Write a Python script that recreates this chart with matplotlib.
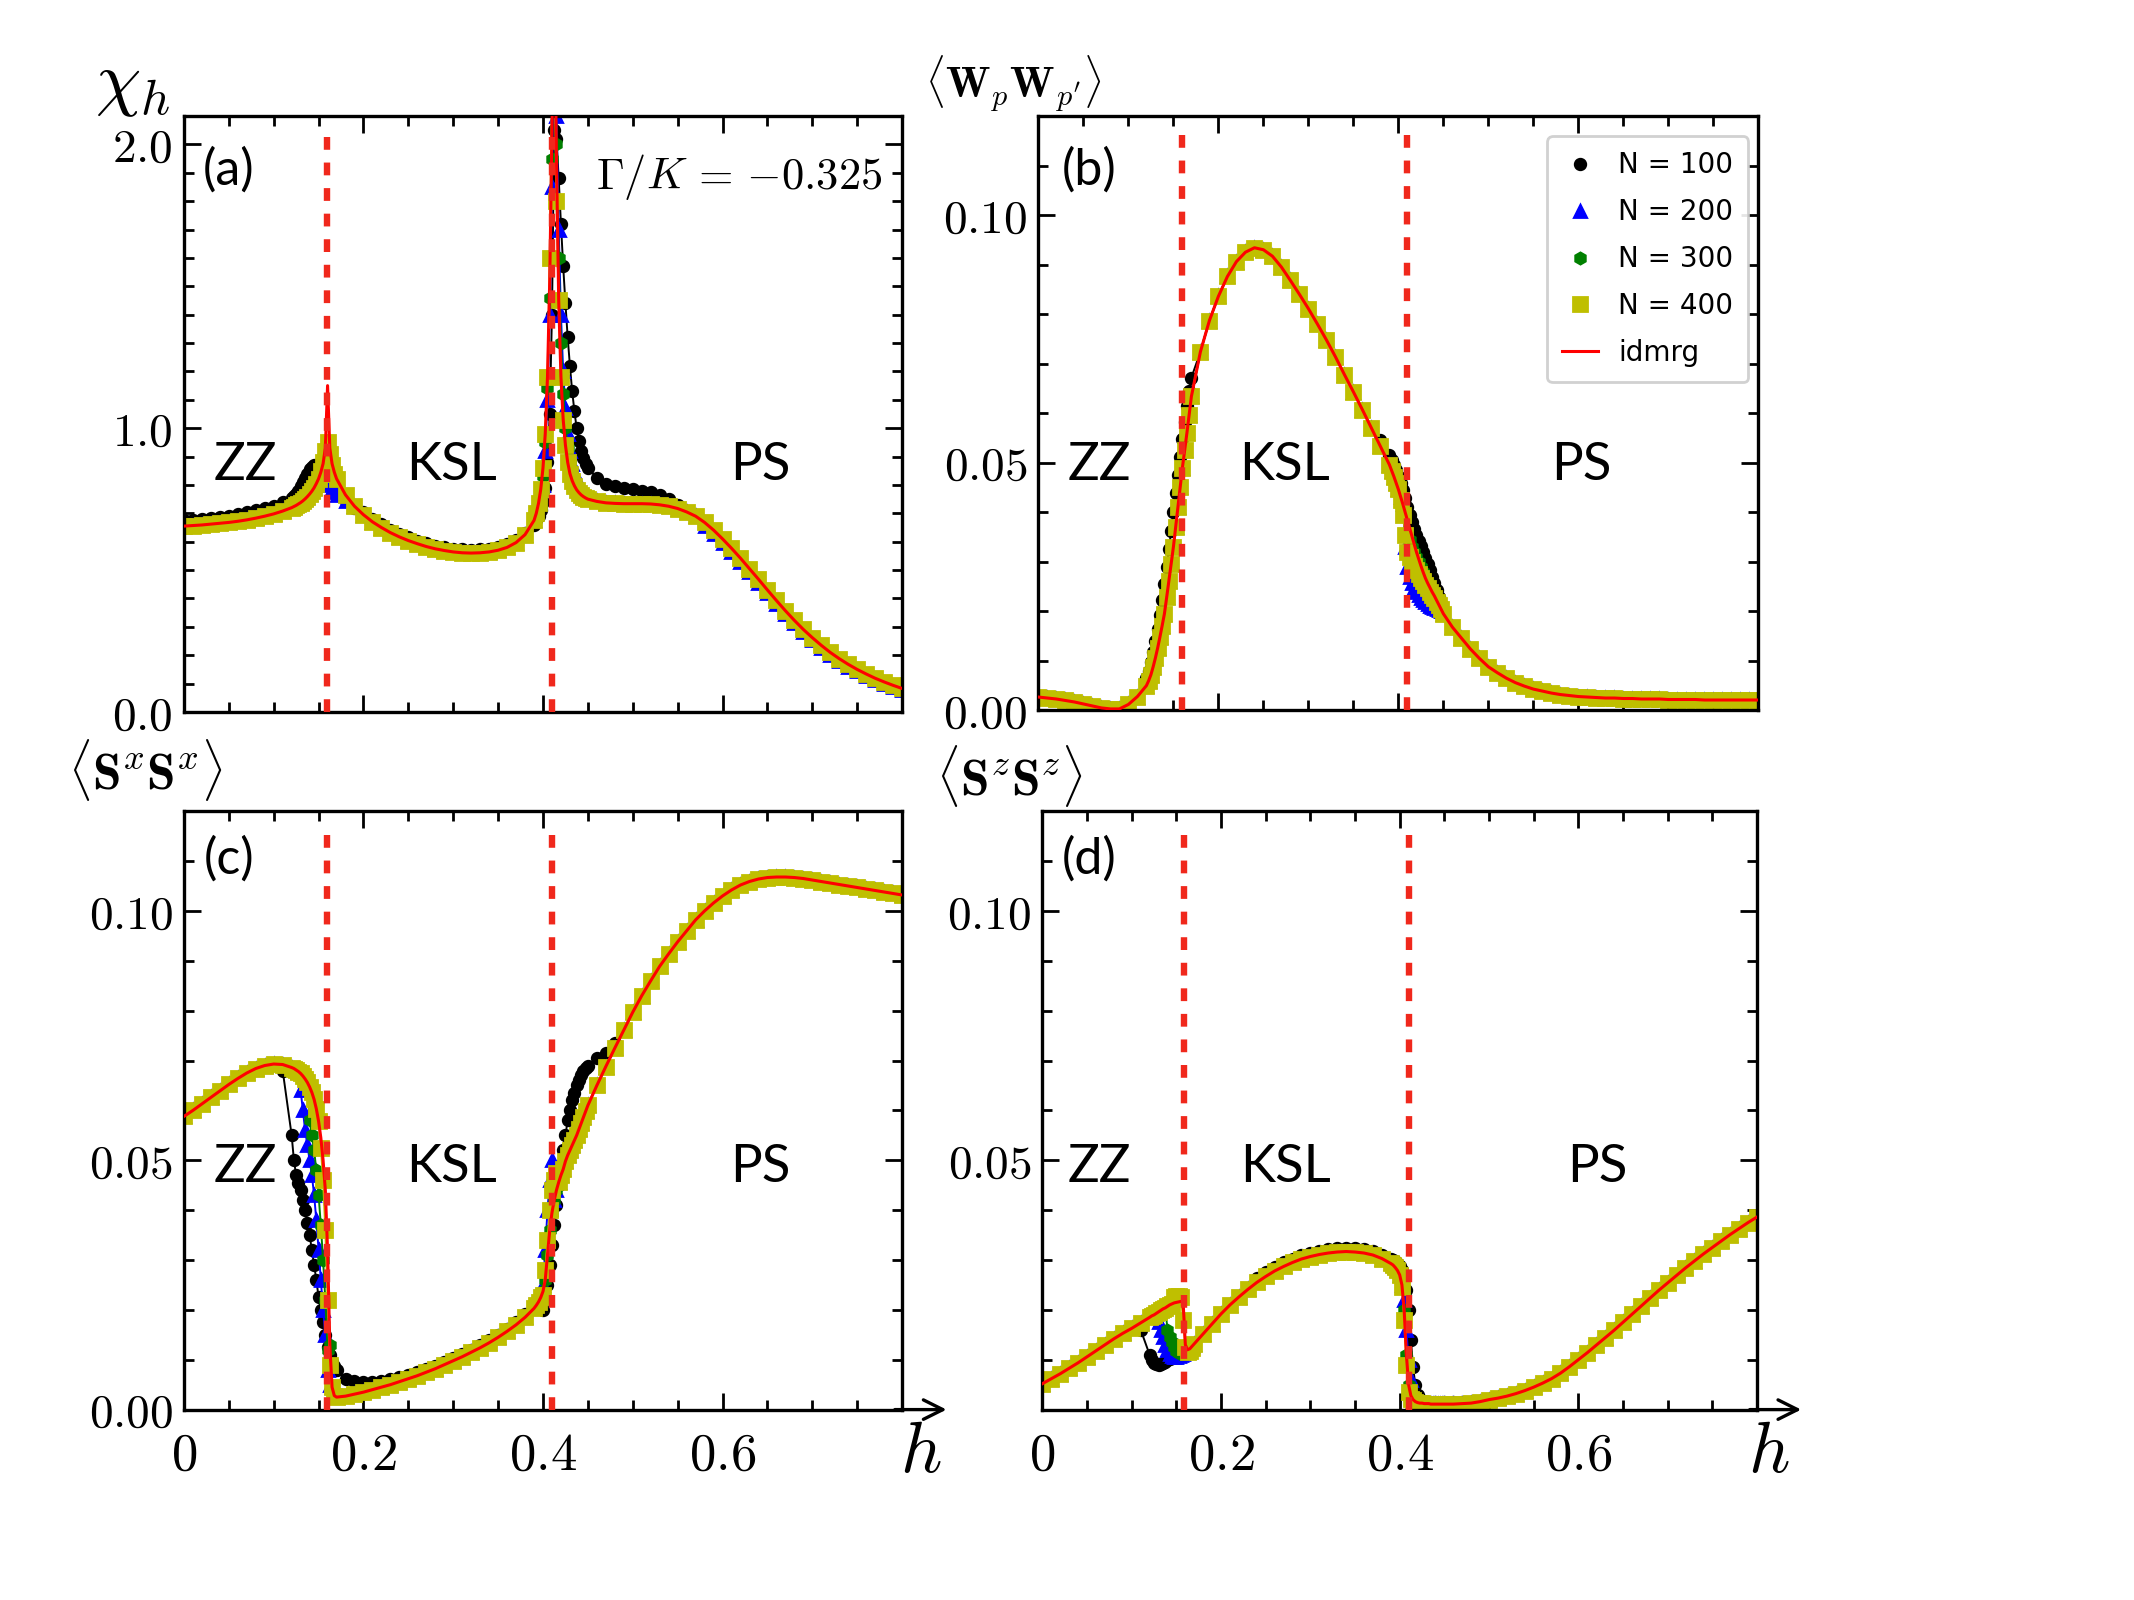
import numpy as np
import matplotlib.pyplot as plt
from matplotlib.ticker import MultipleLocator
from matplotlib.lines import Line2D

plt.rcParams['mathtext.fontset'] = 'cm'

# field grid (finer sampling around the two transitions)
h = np.round(np.concatenate([np.arange(0, 0.115, 0.01),
                             np.arange(0.12, 0.1701, 0.0025),
                             np.arange(0.18, 0.3801, 0.01),
                             np.arange(0.39, 0.4501, 0.0025),
                             np.arange(0.46, 0.8001, 0.01)]), 4)

h_c1, h_c2 = 0.159, 0.410   # transition lines

# ---------------- (a) chi_h ----------------
chi_idmrg = [0.655, 0.657, 0.659, 0.662, 0.665, 0.668, 0.672, 0.677, 0.683, 0.690, 0.698, 0.708,
             0.720, 0.724, 0.728, 0.733, 0.738, 0.744, 0.751, 0.759, 0.768, 0.778, 0.790, 0.805,
             0.822, 0.845, 0.875, 0.930, 1.150, 0.930, 0.875, 0.845, 0.822,
             0.765, 0.725, 0.695, 0.670, 0.650, 0.632, 0.617, 0.604, 0.593, 0.583, 0.575, 0.569,
             0.564, 0.561, 0.560, 0.561, 0.564, 0.570, 0.580, 0.597, 0.625,
             0.675, 0.700, 0.735, 0.785, 0.860, 0.980, 1.180, 1.520, 2.050, 2.600, 1.950, 1.450,
             1.180, 1.030, 0.940, 0.880, 0.840, 0.815, 0.797, 0.783, 0.773, 0.765, 0.759, 0.754, 0.750,
             0.742, 0.737, 0.735, 0.734, 0.734, 0.734, 0.733, 0.730, 0.725, 0.717, 0.705,
             0.690, 0.668, 0.641, 0.610, 0.577, 0.542, 0.505, 0.468, 0.430, 0.393, 0.357, 0.323,
             0.291, 0.262, 0.235, 0.210, 0.188, 0.168, 0.150, 0.134, 0.119, 0.106, 0.094, 0.083]
chi_400 = {0.1525: 0.85, 0.155: 0.88, 0.1575: 0.92, 0.16: 0.95, 0.1625: 0.91, 0.165: 0.87,
           0.1675: 0.84, 0.4075: 1.60, 0.41: 2.20, 0.4125: 2.30, 0.415: 1.80}
chi_300 = {0.16: 0.88, 0.1625: 0.86, 0.165: 0.84,
           0.40: 0.83, 0.4025: 0.95, 0.405: 1.14, 0.4075: 1.46, 0.41: 1.95, 0.4125: 2.5,
           0.415: 2.0, 0.4175: 1.6, 0.42: 1.3, 0.4225: 1.12, 0.425: 1.0, 0.4275: 0.93, 0.43: 0.88}
chi_ps_low = {0.58: 0.655, 0.59: 0.628, 0.60: 0.597, 0.61: 0.564, 0.62: 0.530, 0.63: 0.493,
              0.64: 0.456, 0.65: 0.419, 0.66: 0.382, 0.67: 0.346, 0.68: 0.312, 0.69: 0.281,
              0.70: 0.252, 0.71: 0.226, 0.72: 0.201, 0.73: 0.180, 0.74: 0.160, 0.75: 0.143,
              0.76: 0.127, 0.77: 0.113, 0.78: 0.100, 0.79: 0.089, 0.80: 0.078}
chi_200 = {0.155: 0.86, 0.1575: 0.85, 0.16: 0.83, 0.1625: 0.80, 0.165: 0.785, 0.1675: 0.775,
           0.17: 0.765, 0.18: 0.745,
           0.40: 0.80, 0.4025: 0.92, 0.405: 1.1, 0.4075: 1.4, 0.41: 1.85, 0.4125: 2.4, 0.415: 2.1,
           0.4175: 1.7, 0.42: 1.4, 0.4225: 1.2, 0.425: 1.07, 0.4275: 0.98, 0.43: 0.92,
           0.4325: 0.875, 0.435: 0.845, 0.4375: 0.82, 0.44: 0.805, **chi_ps_low}
chi_100 = {0.00: 0.676, 0.01: 0.678, 0.02: 0.681, 0.03: 0.684, 0.04: 0.688, 0.05: 0.692,
           0.06: 0.697, 0.07: 0.703, 0.08: 0.710, 0.09: 0.718, 0.10: 0.727, 0.11: 0.739,
           0.12: 0.753, 0.1225: 0.760, 0.125: 0.768, 0.1275: 0.780, 0.13: 0.795, 0.1325: 0.81,
           0.135: 0.825, 0.1375: 0.84, 0.14: 0.855, 0.1425: 0.865, 0.145: 0.87, 0.1475: 0.87,
           0.15: 0.865, 0.1525: 0.86, 0.155: 0.855, 0.1575: 0.85, 0.16: 0.84, 0.1625: 0.82,
           0.165: 0.80, 0.1675: 0.785, 0.17: 0.775, 0.18: 0.745, 0.19: 0.718,
           0.20: 0.705, 0.21: 0.681, 0.22: 0.661, 0.23: 0.643, 0.24: 0.628, 0.25: 0.615,
           0.26: 0.604, 0.27: 0.594, 0.28: 0.586, 0.29: 0.580, 0.30: 0.576, 0.31: 0.573,
           0.32: 0.572, 0.33: 0.573, 0.34: 0.576, 0.35: 0.582, 0.36: 0.592, 0.37: 0.607,
           0.38: 0.630, 0.39: 0.66, 0.3925: 0.675, 0.395: 0.69, 0.3975: 0.71, 0.40: 0.74,
           0.4025: 0.79, 0.405: 0.88, 0.4075: 1.05, 0.41: 1.40, 0.4125: 2.05, 0.415: 2.02,
           0.4175: 1.88, 0.42: 1.72, 0.4225: 1.57, 0.425: 1.44, 0.4275: 1.32, 0.43: 1.22,
           0.4325: 1.13, 0.435: 1.06, 0.4375: 1.0, 0.44: 0.955, 0.4425: 0.92, 0.445: 0.895,
           0.4475: 0.875, 0.45: 0.86, 0.46: 0.825, 0.47: 0.805, 0.48: 0.795, 0.49: 0.79,
           0.50: 0.785, 0.51: 0.78, 0.52: 0.775, 0.53: 0.765, 0.54: 0.75, 0.55: 0.73,
           **chi_ps_low}

# ---------------- (b) <W_p W_p'> ----------------
w_idmrg = [0.0027, 0.0025, 0.0023, 0.0020, 0.0017, 0.0013, 0.0009, 0.0005, 0.0003, 0.0003, 0.0012, 0.0028,
           0.0050, 0.0060, 0.0072, 0.0088, 0.0106, 0.0126, 0.0148, 0.0171, 0.0195, 0.0228, 0.0262,
           0.0296, 0.0330, 0.0370, 0.0410, 0.0450, 0.0490, 0.0525, 0.0560, 0.0597, 0.0634,
           0.0724, 0.0787, 0.0836, 0.0876, 0.0906, 0.0925, 0.0934, 0.0930, 0.0917, 0.0895, 0.0868,
           0.0840, 0.0811, 0.0780, 0.0748, 0.0714, 0.0678, 0.0643, 0.0607, 0.0570, 0.0533,
           0.0496, 0.0484, 0.0472, 0.0459, 0.0446, 0.0431, 0.0416, 0.0400, 0.0384, 0.0368, 0.0352,
           0.0336, 0.0320, 0.0306, 0.0292, 0.0279, 0.0267, 0.0257, 0.0248, 0.0239, 0.0231, 0.0222,
           0.0213, 0.0204, 0.0195,
           0.0168, 0.0146, 0.0124, 0.0105, 0.0088, 0.0076, 0.0065, 0.0056, 0.0049, 0.0043, 0.0039,
           0.0035, 0.0032, 0.0030, 0.0028, 0.0027, 0.0026, 0.0025, 0.0025, 0.0024, 0.0024, 0.0023,
           0.0023, 0.0023, 0.0022, 0.0022, 0.0022, 0.0022, 0.0021, 0.0021, 0.0021, 0.0021, 0.0021,
           0.0021, 0.0021]
w_400 = {0.4025: 0.0425, 0.405: 0.0395, 0.4075: 0.0355, 0.41: 0.0320, 0.4125: 0.0310, 0.415: 0.0300,
         0.4175: 0.0291, 0.42: 0.0283, 0.4225: 0.0275, 0.425: 0.0268, 0.4275: 0.0261, 0.43: 0.0254,
         0.4325: 0.0247, 0.435: 0.0240, 0.4375: 0.0233, 0.44: 0.0226, 0.4425: 0.0219, 0.445: 0.0212}
w_300 = {0.4075: 0.039, 0.41: 0.036, 0.4125: 0.0345, 0.415: 0.033, 0.4175: 0.032, 0.42: 0.031,
         0.4225: 0.030, 0.425: 0.029}
w_200 = {0.4075: 0.033, 0.41: 0.029, 0.4125: 0.027, 0.415: 0.0258, 0.4175: 0.0248, 0.42: 0.024,
         0.4225: 0.0233, 0.425: 0.0227, 0.4275: 0.0222, 0.43: 0.0218, 0.4325: 0.0214, 0.435: 0.0211,
         0.4375: 0.0208, 0.44: 0.0206, 0.4425: 0.0204, 0.445: 0.0202, 0.4475: 0.0200}
w_100 = {0.12: 0.0065, 0.1225: 0.0080, 0.125: 0.0098, 0.1275: 0.0118, 0.13: 0.0140, 0.1325: 0.0165,
         0.135: 0.0192, 0.1375: 0.0222, 0.14: 0.0255, 0.1425: 0.0290, 0.145: 0.0326, 0.1475: 0.0362,
         0.15: 0.0400, 0.1525: 0.0438, 0.155: 0.0475, 0.1575: 0.0512, 0.16: 0.0548, 0.1625: 0.0582,
         0.165: 0.0615, 0.1675: 0.0645, 0.17: 0.0672,
         0.38: 0.0545, 0.39: 0.0515, 0.3925: 0.0505, 0.395: 0.0495, 0.3975: 0.0485, 0.40: 0.0473,
         0.4025: 0.0460, 0.405: 0.0445, 0.4075: 0.0428, 0.41: 0.0410, 0.4125: 0.0395, 0.415: 0.0380,
         0.4175: 0.0367, 0.42: 0.0355, 0.4225: 0.0343, 0.425: 0.0331, 0.4275: 0.0319, 0.43: 0.0307,
         0.4325: 0.0295, 0.435: 0.0283, 0.4375: 0.0270, 0.44: 0.0257, 0.4425: 0.0243, 0.445: 0.0228,
         0.4475: 0.0214, 0.45: 0.0200}

# ---------------- (c) <Sx Sx> ----------------
sx_idmrg = [0.0588, 0.0600, 0.0613, 0.0626, 0.0639, 0.0652, 0.0664, 0.0675, 0.0684, 0.0690, 0.0693, 0.0692,
            0.0686, 0.0684, 0.0681, 0.0678, 0.0674, 0.0669, 0.0663, 0.0656, 0.0647, 0.0636, 0.0622,
            0.0603, 0.0578, 0.0545, 0.0500, 0.0440, 0.0320, 0.0130, 0.0045, 0.0028, 0.0025,
            0.0027, 0.0031, 0.0035, 0.0040, 0.0045, 0.0050, 0.0056, 0.0062, 0.0068, 0.0075, 0.0082,
            0.0090, 0.0098, 0.0106, 0.0115, 0.0124, 0.0134, 0.0145, 0.0157, 0.0170, 0.0185,
            0.0203, 0.0209, 0.0216, 0.0225, 0.0237, 0.0260, 0.0310, 0.0360, 0.0395, 0.0420, 0.0440,
            0.0456, 0.0470, 0.0482, 0.0498, 0.0510, 0.0520, 0.0530, 0.0540, 0.0550, 0.0562, 0.0574,
            0.0586, 0.0598, 0.0610,
            0.0650, 0.0688, 0.0725, 0.0761, 0.0797, 0.0830, 0.0860, 0.0889, 0.0914, 0.0938, 0.0960,
            0.0982, 0.1000, 0.1016, 0.1030, 0.1042, 0.1052, 0.1059, 0.1064, 0.1067, 0.1068, 0.1068,
            0.1067, 0.1065, 0.1062, 0.1059, 0.1056, 0.1053, 0.1050, 0.1047, 0.1044, 0.1041, 0.1038,
            0.1035, 0.1032]
sx_400 = {0.1525: 0.0525, 0.155: 0.0460, 0.1575: 0.0360, 0.16: 0.0220, 0.1625: 0.0090, 0.165: 0.0045,
          0.40: 0.0230, 0.4025: 0.0280, 0.405: 0.0340, 0.4075: 0.0400, 0.41: 0.0440, 0.4125: 0.0460,
          0.415: 0.0475}
sx_300 = {0.14: 0.058, 0.1425: 0.055, 0.145: 0.052, 0.1475: 0.048, 0.15: 0.043, 0.1525: 0.037,
          0.155: 0.030, 0.1575: 0.022, 0.16: 0.012}
sx_200 = {0.13: 0.064, 0.1325: 0.060, 0.135: 0.056, 0.1375: 0.053, 0.14: 0.050, 0.1425: 0.047,
          0.145: 0.043, 0.1475: 0.038, 0.15: 0.032, 0.1525: 0.026, 0.155: 0.020, 0.1575: 0.015,
          0.16: 0.008, 0.1625: 0.005, 0.40: 0.025, 0.4025: 0.032, 0.405: 0.040, 0.4075: 0.046,
          0.41: 0.050}
sx_100 = {0.11: 0.0680, 0.12: 0.0550, 0.1225: 0.0500, 0.125: 0.0470, 0.1275: 0.0455, 0.13: 0.0440,
          0.1325: 0.0420, 0.135: 0.0400, 0.1375: 0.0375, 0.14: 0.0350, 0.1425: 0.0320, 0.145: 0.0290,
          0.1475: 0.0260, 0.15: 0.0225, 0.1525: 0.0200, 0.155: 0.0176, 0.1575: 0.0150, 0.16: 0.0125,
          0.1625: 0.0110, 0.165: 0.0095, 0.1675: 0.0087, 0.17: 0.0080, 0.18: 0.0062, 0.19: 0.0057,
          0.20: 0.0055, 0.21: 0.0056, 0.22: 0.0058, 0.23: 0.0061, 0.24: 0.0065, 0.25: 0.0070,
          0.26: 0.0075, 0.27: 0.0081, 0.28: 0.0088, 0.29: 0.0095, 0.30: 0.0103, 0.31: 0.0111,
          0.32: 0.0120, 0.33: 0.0129, 0.34: 0.0139, 0.35: 0.0150, 0.36: 0.0162, 0.37: 0.0176,
          0.38: 0.0192, 0.39: 0.0205, 0.40: 0.020, 0.4025: 0.022, 0.405: 0.025, 0.4075: 0.029,
          0.41: 0.033, 0.4125: 0.037, 0.415: 0.041, 0.4175: 0.045, 0.42: 0.049, 0.4225: 0.052,
          0.425: 0.055, 0.4275: 0.058, 0.43: 0.060, 0.4325: 0.062, 0.435: 0.0635, 0.4375: 0.065,
          0.44: 0.066, 0.4425: 0.067, 0.445: 0.068, 0.4475: 0.0685, 0.45: 0.069, 0.46: 0.0705,
          0.47: 0.0715, 0.48: 0.0735}

# ---------------- (d) <Sz Sz> ----------------
sz_idmrg = [0.0052, 0.0062, 0.0072, 0.0083, 0.0094, 0.0106, 0.0118, 0.0130, 0.0142, 0.0153, 0.0163, 0.0174,
            0.0185, 0.0188, 0.0190, 0.0193, 0.0196, 0.0199, 0.0202, 0.0204, 0.0207, 0.0210, 0.0212,
            0.0214, 0.0215, 0.0216, 0.0217, 0.0215, 0.0130, 0.0120, 0.0122, 0.0127, 0.0132,
            0.0152, 0.0172, 0.0192, 0.0210, 0.0226, 0.0241, 0.0255, 0.0267, 0.0278, 0.0287, 0.0295,
            0.0302, 0.0307, 0.0311, 0.0314, 0.0316, 0.0317, 0.0316, 0.0314, 0.0310, 0.0303,
            0.0293, 0.0290, 0.0285, 0.0279, 0.0270, 0.0250, 0.0200, 0.0110, 0.0050, 0.0028, 0.0020,
            0.0016, 0.0014, 0.0013, 0.0013, 0.0012, 0.0012, 0.0012, 0.0011, 0.0011, 0.0011, 0.0011,
            0.0011, 0.0011, 0.0011,
            0.0011, 0.0012, 0.0013, 0.0016, 0.0020, 0.0023, 0.0027, 0.0032, 0.0038, 0.0045, 0.0053,
            0.0062, 0.0073, 0.0086, 0.0100, 0.0114, 0.0129, 0.0144, 0.0159, 0.0175, 0.0191, 0.0207,
            0.0223, 0.0239, 0.0254, 0.0269, 0.0284, 0.0298, 0.0312, 0.0325, 0.0338, 0.0351, 0.0363,
            0.0375, 0.0386]
sz_400 = {0.1475: 0.0225, 0.15: 0.0228, 0.1525: 0.0228, 0.155: 0.0225, 0.1575: 0.0180, 0.16: 0.0125,
          0.1625: 0.0115, 0.165: 0.0118, 0.1675: 0.0124,
          0.4025: 0.0245, 0.405: 0.0180, 0.4075: 0.0090, 0.41: 0.0035, 0.4125: 0.0022}
sz_300 = {0.14: 0.0160, 0.1425: 0.0145, 0.145: 0.0135, 0.1475: 0.0125, 0.15: 0.0118, 0.1525: 0.0114,
          0.155: 0.0113, 0.1575: 0.0114}
sz_200 = {0.13: 0.0175, 0.1325: 0.0160, 0.135: 0.0145, 0.1375: 0.0130, 0.14: 0.0120, 0.1425: 0.0112,
          0.145: 0.0108, 0.1475: 0.0106, 0.15: 0.0106, 0.1525: 0.0107, 0.155: 0.0109, 0.1575: 0.0112,
          0.16: 0.0116, 0.405: 0.022, 0.4075: 0.016, 0.41: 0.010, 0.4125: 0.006, 0.415: 0.003}
sz_100 = {0.11: 0.0160, 0.12: 0.0110, 0.1225: 0.0100, 0.125: 0.0094, 0.1275: 0.0091, 0.13: 0.0090,
          0.1325: 0.0091, 0.135: 0.0093, 0.1375: 0.0096, 0.14: 0.0099, 0.1425: 0.0102, 0.145: 0.0105,
          0.1475: 0.0108, 0.15: 0.0110, 0.1525: 0.0112, 0.155: 0.0113, 0.1575: 0.0114, 0.16: 0.0116,
          0.1625: 0.0119, 0.165: 0.0124,
          0.24: 0.0263, 0.25: 0.0275, 0.26: 0.0286, 0.27: 0.0295, 0.28: 0.0303, 0.29: 0.0310,
          0.30: 0.0315, 0.31: 0.0319, 0.32: 0.0322, 0.33: 0.0324, 0.34: 0.0325, 0.35: 0.0324,
          0.36: 0.0322, 0.37: 0.0318, 0.38: 0.0311, 0.39: 0.0303, 0.3925: 0.0300, 0.395: 0.0297,
          0.3975: 0.0293, 0.40: 0.0288, 0.4025: 0.0280, 0.405: 0.0265, 0.4075: 0.0240, 0.41: 0.0200,
          0.4125: 0.0140, 0.415: 0.0085, 0.4175: 0.0050, 0.42: 0.0030, 0.4225: 0.0022, 0.425: 0.0018,
          0.43: 0.0016, 0.44: 0.0015, 0.45: 0.0015, 0.46: 0.0015, 0.47: 0.0015, 0.48: 0.0016,
          0.49: 0.0017}

labels_N = ['N = 100', 'N = 200', 'N = 300', 'N = 400']
regions = ['ZZ', 'KSL', 'PS']


def with_points(base, pts):
    y = np.array(base, dtype=float)
    for hv, v in pts.items():
        y[np.isclose(h, hv)] = v
    return y


fig = plt.figure(figsize=(10.67, 8), dpi=200)
boxes = [[0.0862, 0.555, 0.3365, 0.3725], [0.4866, 0.556, 0.3374, 0.3715],
         [0.0862, 0.119, 0.3365, 0.374], [0.4885, 0.119, 0.3348, 0.374]]
panels = [(chi_idmrg, chi_100, chi_200, chi_300, chi_400),
          (w_idmrg, w_100, w_200, w_300, w_400),
          (sx_idmrg, sx_100, sx_200, sx_300, sx_400),
          (sz_idmrg, sz_100, sz_200, sz_300, sz_400)]
styles = [dict(marker='o', color='k', ms=3.8),
          dict(marker='^', color='b', ms=4.0),
          dict(marker='h', color='g', ms=4.0),
          dict(marker='s', color='y', ms=5.0)]
region_x = [[0.085, 0.373, 0.803], [0.085, 0.342, 0.754], [0.085, 0.373, 0.803], [0.08, 0.34, 0.777]]
region_y = [0.413, 0.412, 0.405, 0.405]
tags = ['(a)', '(b)', '(c)', '(d)']
tag_pos = [(0.0625, 0.909), (0.07, 0.909), (0.0625, 0.92), (0.065, 0.92)]

axes = []
for i, (box, data) in enumerate(zip(boxes, panels)):
    ax = fig.add_axes(box)
    axes.append(ax)
    line = np.array(data[0])
    for pts, st in zip(data[1:], styles):
        ax.plot(h, with_points(line, pts), ls='-', lw=0.7, **st)
    ax.plot(h, line, color='r', lw=1.1, zorder=4)
    for hc in (h_c1, h_c2):
        ax.axvline(hc, ymin=0, ymax=0.98, color='#f0281c', lw=2.3, dashes=(2, 2), zorder=5)
    ax.set_xlim(0, 0.8)
    if i == 0:
        ax.set_ylim(0, 2.1)
        ax.set_yticks([0, 1, 2])
        ax.set_yticklabels([r'$0.0$', r'$1.0$', r'$2.0$'])
        ax.yaxis.set_minor_locator(MultipleLocator(0.1))
    else:
        ax.set_ylim(0, 0.12)
        ax.set_yticks([0, 0.05, 0.10])
        if i == 3:
            ax.set_yticklabels(['', r'$0.05$', r'$0.10$'])
        else:
            ax.set_yticklabels([r'$0.00$', r'$0.05$', r'$0.10$'])
        ax.yaxis.set_minor_locator(MultipleLocator(0.01))
    ax.set_xticks([0, 0.2, 0.4, 0.6, 0.8])
    ax.xaxis.set_minor_locator(MultipleLocator(0.05))
    if i >= 2:
        ax.set_xticklabels([r'$0$', r'$0.2$', r'$0.4$', r'$0.6$', ''])
        ax.annotate('', xy=(1.062, 0), xytext=(0.99, 0), xycoords='axes fraction',
                    arrowprops=dict(arrowstyle='->,head_length=0.7,head_width=0.35', lw=1.2,
                                    color='k', shrinkA=0, shrinkB=0), annotation_clip=False)
    else:
        ax.set_xticklabels([])
    ax.tick_params(which='both', direction='in', top=True, right=True, width=1.0)
    ax.tick_params(which='major', length=6)
    ax.tick_params(which='minor', length=3.5)
    ax.tick_params(axis='y', labelsize=17, pad=4)
    ax.tick_params(axis='x', labelsize=19, pad=7)
    for sp in ax.spines.values():
        sp.set_linewidth(1.2)
    for xr, name in zip(region_x[i], regions):
        ax.text(xr, region_y[i], name, transform=ax.transAxes, ha='center', va='center',
                fontsize=19, family='Lato')
    ax.text(tag_pos[i][0], tag_pos[i][1], tags[i], transform=ax.transAxes, ha='center',
            va='center', fontsize=18, family='Lato')

axes[0].text(0.773, 0.897, r'$\Gamma/K\,=\,{-0.325}$', transform=axes[0].transAxes,
             ha='center', va='center', fontsize=16)

handles = [Line2D([], [], ls='none', **st) for st in styles]
handles.append(Line2D([], [], color='r', lw=1.1))
axes[1].legend(handles, labels_N + ['idmrg'], loc='upper right', bbox_to_anchor=(0.986, 0.966),
               borderaxespad=0, fontsize=10, handlelength=1.3, handletextpad=0.7,
               labelspacing=0.68, borderpad=0.55, numpoints=1, framealpha=0.9,
               edgecolor='#cccccc')

fig.text(0.062, 0.947, r'$\chi_h$', ha='center', va='center', fontsize=26)
fig.text(0.475, 0.9475, r"$\langle \mathbf{W}_p \mathbf{W}_{p'} \rangle$", ha='center',
         va='center', fontsize=15.5)
fig.text(0.068, 0.519, r'$\langle \mathbf{S}^x \mathbf{S}^x \rangle$', ha='center',
         va='center', fontsize=18.5)
fig.text(0.473, 0.515, r'$\langle \mathbf{S}^z \mathbf{S}^z \rangle$', ha='center',
         va='center', fontsize=18.5)
fig.text(0.4317, 0.092, r'$h$', ha='center', va='center', fontsize=26)
fig.text(0.829, 0.092, r'$h$', ha='center', va='center', fontsize=26)

fig.savefig('out.png', dpi=200)
